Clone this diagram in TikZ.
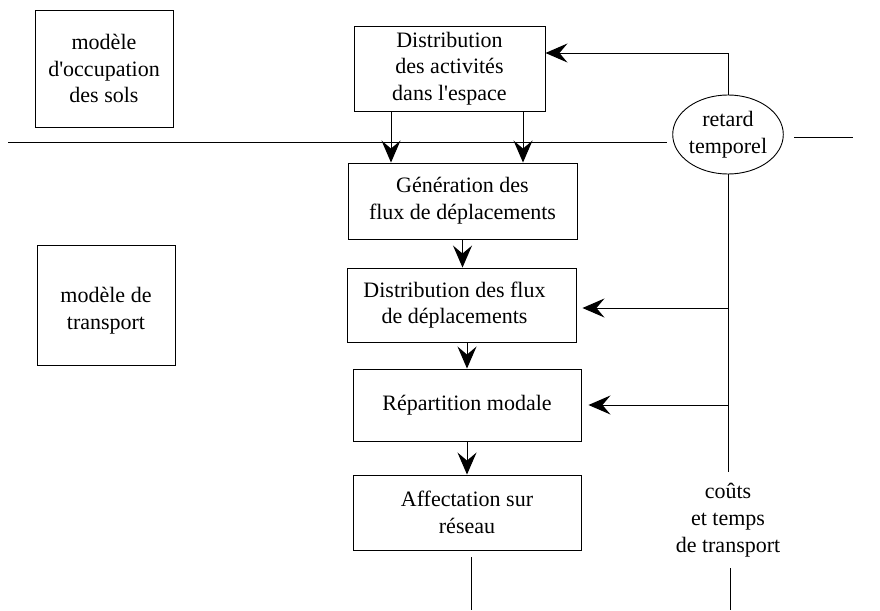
\documentclass[tikz,border=0pt]{standalone}
\usepackage{fontspec}
\setmainfont{Liberation Serif}
\usetikzlibrary{arrows.meta,shapes.geometric}
\begin{document}
\begin{tikzpicture}[x=1pt,y=-1pt,
  every node/.style={font=\fontsize{22}{26.7}\selectfont, align=center},
  box/.style={draw, line width=0.9pt, inner sep=0pt},
  ln/.style={line width=0.9pt},
  arr/.style={ln, -{Stealth[length=22pt,width=19pt,inset=8pt,line width=1.2pt]}},
]
\useasboundingbox (0,0) rectangle (880,610);

\node[box, minimum width=138pt, minimum height=117pt] (sols) at (104,68.5) {modèle\\d\textquotesingle occupation\\des sols};
\node[box, minimum width=138pt, minimum height=120pt] (mtrans) at (106,305) {};
\node[inner sep=0pt] (mtranstxt) at ([yshift=-6pt]mtrans.center) {modèle de\\transport};

\node[box, minimum width=191pt, minimum height=85pt] (dact) at (449.5,68.5) {Distribution\\des activités\\dans l\textquotesingle espace};
\node[box, minimum width=229pt, minimum height=76pt] (gen) at (462.5,201) {Génération des\\flux de déplacements};
\node[box, minimum width=229pt, minimum height=74pt] (dflux) at (461.5,305) {};
\node[inner sep=0pt] (dfluxtxt) at ([xshift=-7pt]dflux.center) {Distribution des flux\\de déplacements};
\node[box, minimum width=228pt, minimum height=72pt] (rep) at (467,405) {Répartition modale};
\node[box, minimum width=228pt, minimum height=75pt] (aff) at (467,512.5) {Affectation sur\\réseau};

\node[draw, ln, ellipse, inner sep=0pt, minimum width=107pt, minimum height=79pt] (ret) at (728,134.5) {retard\\temporel};
\node[inner sep=0pt, minimum height=96pt] (cost) at (728,520) {coûts\\et temps\\de transport};

\coordinate (hl) at (8,142);
\coordinate (hr) at (853,137);
\coordinate (hre) at (794,137);
\coordinate (affbot) at (471,610);
\coordinate (costbot) at (730,610);

% horizontal separator
\draw[ln] (hl) -- ([xshift=-5pt]hl -| ret.west);
\draw[ln] (hre) -- (hr);

% arrows from activities to generation
\draw[arr] ([xshift=-58.5pt]dact.south) -- ([xshift=-58.5pt]dact.south |- gen.north);
\draw[arr] ([xshift=73.5pt]dact.south) -- ([xshift=73.5pt]dact.south |- gen.north);

% chain
\draw[arr] (gen.south) -- (gen.south |- dflux.north);
\draw[arr] (rep.north |- dflux.south) -- (rep.north);
\draw[arr] (rep.south) -- (aff.north);
\draw[ln] ([yshift=-7pt]affbot |- aff.south) -- (affbot);

% feedback
\draw[arr] (ret.north) |- ([yshift=15.5pt]dact.east);
\draw[ln] (ret.south) -- (cost.north);
\draw[ln] (costbot |- cost.south) -- (costbot);
\draw[arr, shorten >=6pt] ([yshift=-3pt]ret.south |- dflux.east) -- ([yshift=-3pt]dflux.east);
\draw[arr, shorten >=7pt] (ret.south |- rep.east) -- (rep.east);
\end{tikzpicture}
\end{document}
